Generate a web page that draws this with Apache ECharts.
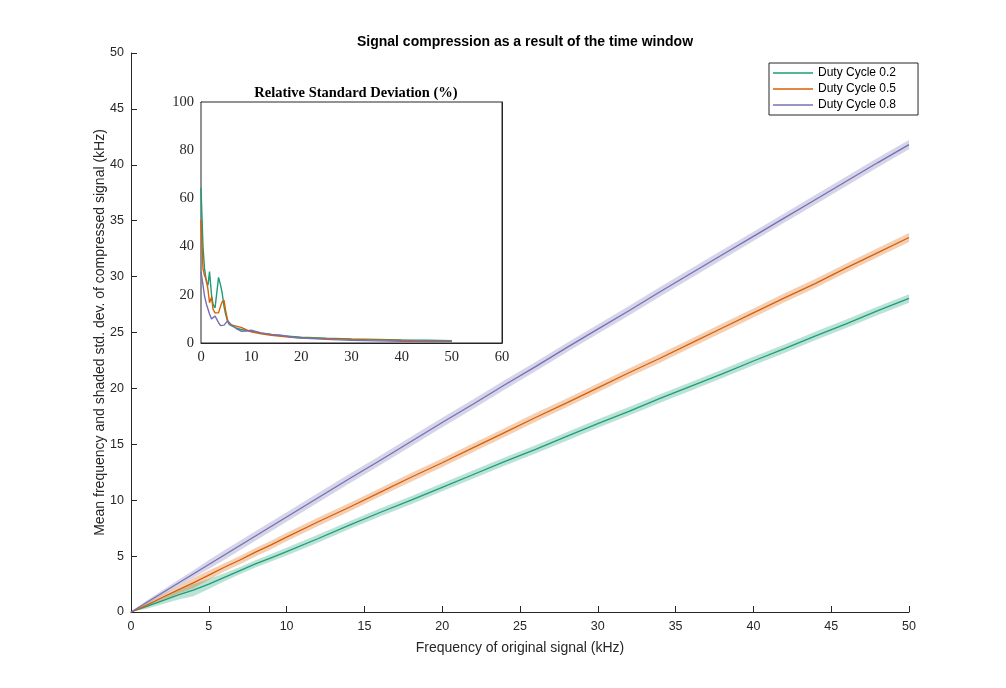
<!DOCTYPE html>
<html>
<head>
<meta charset="utf-8">
<script src="https://cdn.jsdelivr.net/npm/echarts@6/dist/echarts.min.js"></script>
<style>
  html, body { margin: 0; padding: 0; background: #fff; }
  #chart { width: 1006px; height: 688px; }
</style>
</head>
<body>
<div id="chart"></div>
<script>
// main plot: frequency of original signal (kHz)
var mainX = [0, 1, 2, 3, 4, 5, 6, 7, 8, 9, 10, 12, 14, 16, 18, 20, 22, 24, 26, 28, 30, 32, 34, 36, 38, 40, 42, 44, 46, 48, 50];
// mean compressed frequency (kHz)
var mean02 = [0, 0.5, 1.0, 1.5, 1.95, 2.5, 3.1, 3.7, 4.3, 4.85, 5.4, 6.55, 7.75, 8.9, 10.0, 11.15, 12.3, 13.45, 14.55, 15.7, 16.85, 17.95, 19.1, 20.2, 21.3, 22.45, 23.55, 24.7, 25.8, 26.95, 28.05];
var mean05 = [0, 0.6, 1.3, 1.95, 2.6, 3.3, 4.0, 4.65, 5.35, 6.0, 6.7, 8.05, 9.35, 10.7, 12.05, 13.35, 14.7, 16.05, 17.4, 18.7, 20.05, 21.4, 22.7, 24.05, 25.4, 26.75, 28.1, 29.4, 30.8, 32.15, 33.5];
var mean08 = [0, 0.85, 1.7, 2.55, 3.4, 4.25, 5.1, 5.95, 6.8, 7.65, 8.5, 10.2, 11.9, 13.55, 15.25, 16.95, 18.6, 20.3, 21.95, 23.65, 25.3, 26.95, 28.65, 30.3, 31.95, 33.6, 35.25, 36.9, 38.55, 40.2, 41.8];
// standard deviation (kHz), shaded band
var std02 = [0, 0.22, 0.3, 0.4, 0.55, 0.45, 0.36, 0.33, 0.33, 0.33, 0.34, 0.35, 0.35, 0.36, 0.36, 0.36, 0.37, 0.37, 0.37, 0.38, 0.38, 0.38, 0.38, 0.38, 0.38, 0.38, 0.38, 0.38, 0.38, 0.38, 0.38];
var std05 = [0, 0.2, 0.26, 0.33, 0.47, 0.42, 0.37, 0.37, 0.38, 0.38, 0.38, 0.38, 0.38, 0.38, 0.39, 0.39, 0.39, 0.39, 0.39, 0.39, 0.39, 0.39, 0.4, 0.4, 0.4, 0.4, 0.4, 0.4, 0.4, 0.4, 0.4];
var std08 = [0, 0.18, 0.22, 0.3, 0.32, 0.4, 0.42, 0.42, 0.42, 0.42, 0.42, 0.42, 0.42, 0.42, 0.42, 0.42, 0.42, 0.42, 0.42, 0.42, 0.42, 0.42, 0.42, 0.42, 0.42, 0.42, 0.42, 0.42, 0.42, 0.42, 0.42];

// inset: relative standard deviation (%)
var insetX = [0, 0.4, 0.7, 1.1, 1.4, 1.7, 2.1, 2.4, 2.8, 3.1, 3.5, 3.9, 4.2, 4.6, 4.9, 5.3, 5.6, 6, 7, 8, 9, 10, 12, 14, 16, 18, 20, 25, 30, 35, 40, 45, 50];
var rsd02 = [64.4, 40, 31, 25, 24, 29.6, 20, 16, 14.6, 20, 27.2, 24, 21, 15, 12, 9, 7.8, 7.2, 6.3, 5.6, 5.2, 4.9, 4.1, 3.5, 3.0, 2.7, 2.4, 2.0, 1.7, 1.5, 1.3, 1.15, 1.0];
var rsd05 = [51, 30.7, 28, 26, 22, 16.7, 19, 14, 12.5, 11.8, 12.5, 15.3, 17, 17.7, 13.5, 9.5, 8, 7.5, 7.0, 6.5, 5.5, 4.6, 3.8, 3.2, 2.8, 2.4, 2.1, 1.8, 1.5, 1.3, 1.1, 0.9, 0.7];
var rsd08 = [29.6, 24, 19.5, 16, 14, 12, 10, 9.8, 11.2, 10, 8.4, 7.2, 7.0, 7.4, 7.7, 9.2, 8.6, 7.7, 6, 4.9, 5, 5.3, 4.2, 3.6, 3.2, 2.5, 2.1, 1.5, 1.1, 0.9, 0.7, 0.6, 0.55];

var names = ['Duty Cycle 0.2', 'Duty Cycle 0.5', 'Duty Cycle 0.8'];
var colors = ['#1b9e77', '#d95f02', '#7570b3'];
var means = [mean02, mean05, mean08];
var stds = [std02, std05, std08];
var rsds = [rsd02, rsd05, rsd08];

var axisColor = '#262626';
var sans = 'Liberation Sans, Arial, sans-serif';
var serif = 'Liberation Serif, Times New Roman, serif';

var chart = echarts.init(document.getElementById('chart'));

// shaded std band drawn as one polygon through the axis scales
function bandSeries(k) {
  var m = means[k], s = stds[k];
  return {
    type: 'custom',
    xAxisIndex: 0,
    yAxisIndex: 0,
    silent: true,
    z: 1,
    data: mainX.map(function (x, i) { return [x, m[i] - s[i], m[i] + s[i]]; }),
    encode: { x: 0, y: [1, 2] },
    renderItem: function (params, api) {
      if (params.dataIndex !== 0) return;
      var pts = [];
      for (var i = 0; i < mainX.length; i++) pts.push(api.coord([mainX[i], m[i] + s[i]]));
      for (var j = mainX.length - 1; j >= 0; j--) pts.push(api.coord([mainX[j], m[j] - s[j]]));
      return {
        type: 'polygon',
        shape: { points: pts },
        style: { fill: colors[k], opacity: 0.3 }
      };
    }
  };
}

var series = [];
for (var k = 0; k < 3; k++) series.push(bandSeries(k));
for (var k2 = 0; k2 < 3; k2++) {
  series.push({
    name: names[k2],
    type: 'line',
    xAxisIndex: 0,
    yAxisIndex: 0,
    symbol: 'none',
    z: 3,
    lineStyle: { color: colors[k2], width: 1.3 },
    itemStyle: { color: colors[k2] },
    data: mainX.map(function (x, i) { return [x, means[k2][i]]; })
  });
}
for (var k3 = 0; k3 < 3; k3++) {
  series.push({
    name: 'RSD ' + k3,
    type: 'line',
    xAxisIndex: 1,
    yAxisIndex: 1,
    symbol: 'none',
    z: 5,
    lineStyle: { color: colors[k3], width: 1.4 },
    data: insetX.map(function (x, i) { return [x, rsds[k3][i]]; })
  });
}

function insetAxis(pos, show, min, max, interval) {
  return {
    type: 'value',
    gridIndex: 1,
    position: pos,
    min: min, max: max, interval: interval,
    axisLine: { show: true, onZero: false, lineStyle: { color: axisColor, width: 1 } },
    axisTick: { show: true, inside: true, length: 4, lineStyle: { color: axisColor } },
    axisLabel: { show: show, color: axisColor, fontFamily: serif, fontSize: 14.5, margin: 7 },
    splitLine: { show: false }
  };
}

chart.setOption({
  animation: false,
  backgroundColor: '#fff',
  title: [{
    text: 'Signal compression as a result of the time window',
    left: 520, top: 30, textAlign: 'center',
    textStyle: { fontFamily: sans, fontSize: 14, fontWeight: 'bold', color: '#000' }
  }, {
    text: 'Relative Standard Deviation (%)',
    left: 351, top: 81, textAlign: 'center',
    textStyle: { fontFamily: serif, fontSize: 14.5, fontWeight: 'bold', color: '#000' }
  }],
  legend: {
    data: names,
    left: 769, top: 63,
    orient: 'vertical',
    icon: 'rect',
    itemWidth: 40, itemHeight: 1.5,
    itemGap: 4,
    padding: [4, 22, 4, 4],
    borderColor: axisColor, borderWidth: 1,
    backgroundColor: '#fff',
    textStyle: { fontFamily: sans, fontSize: 12, color: '#000' }
  },
  grid: [
    { left: 131, right: 97, top: 53, bottom: 76 },
    { left: 201, right: 504, top: 102, bottom: 345, show: true, backgroundColor: '#fff', borderColor: axisColor, borderWidth: 1, z: 4 }
  ],
  xAxis: [{
    type: 'value', gridIndex: 0,
    min: 0, max: 50, interval: 5,
    name: 'Frequency of original signal (kHz)',
    nameLocation: 'middle', nameGap: 29,
    nameTextStyle: { fontFamily: sans, fontSize: 14, color: axisColor },
    axisLine: { show: true, onZero: false, lineStyle: { color: axisColor, width: 1 } },
    axisTick: { show: true, inside: true, length: 6, lineStyle: { color: axisColor } },
    axisLabel: { color: axisColor, fontFamily: sans, fontSize: 12.5, margin: 8 },
    splitLine: { show: false }
  },
    insetAxis('bottom', true, 0, 60, 10),
    insetAxis('top', false, 0, 60, 10)
  ],
  yAxis: [{
    type: 'value', gridIndex: 0,
    min: 0, max: 50, interval: 5,
    name: 'Mean frequency and shaded std. dev. of compressed signal (kHz)',
    nameLocation: 'middle', nameGap: 24, nameMoveOverlap: false,
    nameTextStyle: { fontFamily: sans, fontSize: 14, color: axisColor },
    axisLine: { show: true, onZero: false, lineStyle: { color: axisColor, width: 1 } },
    axisTick: { show: true, inside: true, length: 6, lineStyle: { color: axisColor } },
    axisLabel: { color: axisColor, fontFamily: sans, fontSize: 12.5, margin: 7 },
    splitLine: { show: false }
  },
    insetAxis('left', true, 0, 100, 20),
    insetAxis('right', false, 0, 100, 20)
  ],
  series: series
});
</script>
</body>
</html>
